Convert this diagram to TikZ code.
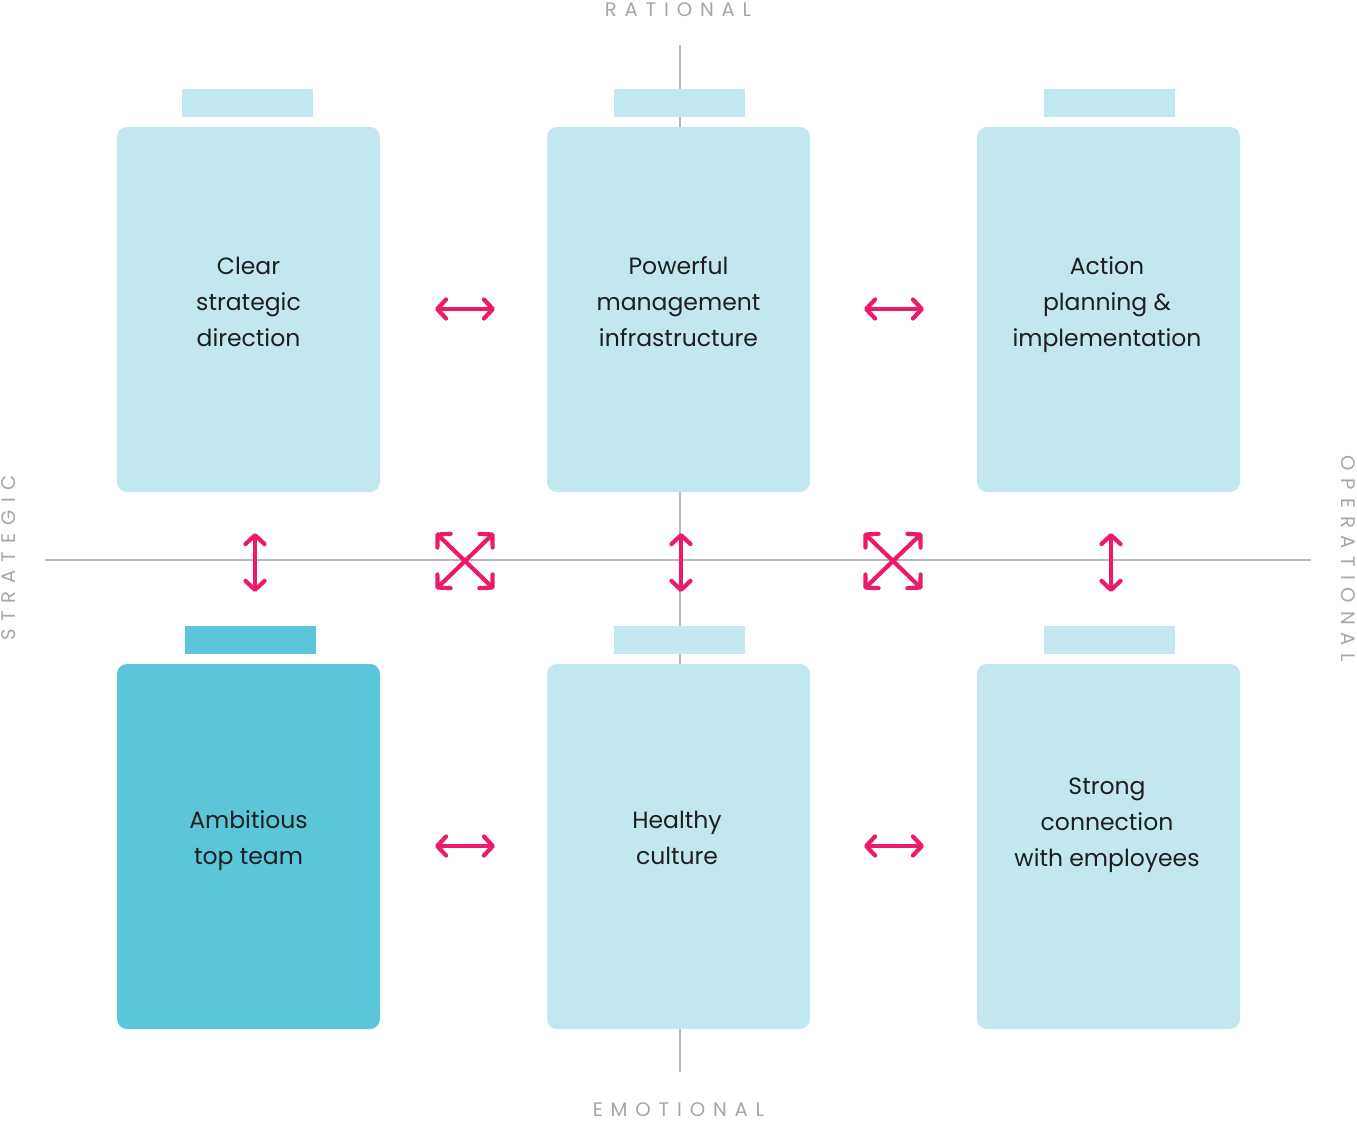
\documentclass[tikz,border=0pt]{standalone}
\usepackage{fontspec}
\setmainfont{Poppins}
\usetikzlibrary{arrows.meta}
\definecolor{boxlight}{HTML}{C2E7EF}
\definecolor{boxdark}{HTML}{5BC6DA}
\definecolor{pinkarrow}{HTML}{EC1A6A}
\definecolor{axisgray}{HTML}{B8B8B8}
\definecolor{labelgray}{HTML}{A6A6A6}
\definecolor{textdark}{HTML}{1E1E1E}
\tikzset{
  panel/.style={fill=boxlight, draw=none, rounded corners=10pt, minimum width=263pt, minimum height=365pt, inner sep=0pt},
  darkpanel/.style={panel, fill=boxdark},
  tab/.style={fill=boxlight, draw=none, minimum width=131pt, minimum height=28pt, inner sep=0pt},
  darktab/.style={tab, fill=boxdark},
  boxtext/.style={align=center, text=textdark, font=\fontsize{23.5}{36}\selectfont, inner sep=0pt},
  axislabel/.style={text=labelgray, font=\fontsize{19.6}{21}\selectfont\addfontfeature{LetterSpace=40}, inner sep=0pt},
  axisline/.style={draw=axisgray, line width=2pt},
  dbl/.style={draw=pinkarrow, line width=4.2pt, line cap=round,
    {Straight Barb[round,length=9pt,width=19pt]}-{Straight Barb[round,length=9pt,width=19pt]}},
}
\begin{document}
\begin{tikzpicture}[x=1pt,y=-1pt]
\useasboundingbox (0,0) rectangle (1357,1120);
% axes
\coordinate (vtop) at (680,45);
\coordinate (vbot) at (680,1072);
\coordinate (hleft) at (45,560);
\coordinate (hright) at (1311,560);
\draw[axisline] (vtop) -- (vbot);
\draw[axisline] (hleft) -- (hright);
% axis labels
\node[axislabel] (lr) at (678,10) {RATIONAL};
\node[axislabel] (le) at (678.5,1110) {EMOTIONAL};
\node[axislabel, rotate=90] (ls) at (9,558) {STRATEGIC};
\node[axislabel, rotate=-90] (lo) at (1348,559) {OPERATIONAL};
% tabs
\node[tab] (tab1) at (247,103) {};
\node[tab] (tab2) at (679.5,103) {};
\node[tab] (tab3) at (1109.5,103) {};
\node[darktab] (tab4) at (250,640) {};
\node[tab] (tab5) at (679.5,640) {};
\node[tab] (tab6) at (1109.5,640) {};
% panels
\node[panel] (b1) at (248.5,309.5) {};
\node[panel] (b2) at (678.5,309.5) {};
\node[panel] (b3) at (1108.5,309.5) {};
\node[darkpanel] (b4) at (248.5,846.5) {};
\node[panel] (b5) at (678.5,846.5) {};
\node[panel] (b6) at (1108.5,846.5) {};
% texts
\node[boxtext] (t1) at (248.5,302) {Clear\\strategic\\direction};
\node[boxtext] (t2) at (678.5,302) {Powerful\\management\\infrastructure};
\node[boxtext] (t3) at (1107,305) {Action\\planning \&\\implementation};
\node[boxtext] (t4) at (248.5,841) {Ambitious\\top team};
\node[boxtext] (t5) at (677,838) {Healthy\\culture};
\node[boxtext] (t6) at (1107,825) {Strong\\connection\\with employees};
% arrow end points
\coordinate (h1a) at (435,309); \coordinate (h1b) at (495,309);
\coordinate (h2a) at (864,309); \coordinate (h2b) at (924,309);
\coordinate (h3a) at (435,846); \coordinate (h3b) at (495,846);
\coordinate (h4a) at (864,846); \coordinate (h4b) at (924,846);
\coordinate (v1a) at (255,533); \coordinate (v1b) at (255,592);
\coordinate (v2a) at (681,533); \coordinate (v2b) at (681,592);
\coordinate (v3a) at (1111,533); \coordinate (v3b) at (1111,592);
\coordinate (x1a) at (436,533); \coordinate (x1b) at (494,589);
\coordinate (x1c) at (494,533); \coordinate (x1d) at (436,589);
\coordinate (x2a) at (864,533); \coordinate (x2b) at (922,589);
\coordinate (x2c) at (922,533); \coordinate (x2d) at (864,589);
% arrows
\draw[dbl] (h1a) -- (h1b);
\draw[dbl] (h2a) -- (h2b);
\draw[dbl] (h3a) -- (h3b);
\draw[dbl] (h4a) -- (h4b);
\draw[dbl] (v1a) -- (v1b);
\draw[dbl] (v2a) -- (v2b);
\draw[dbl] (v3a) -- (v3b);
\draw[dbl] (x1a) -- (x1b);
\draw[dbl] (x1c) -- (x1d);
\draw[dbl] (x2a) -- (x2b);
\draw[dbl] (x2c) -- (x2d);
\end{tikzpicture}
\end{document}
